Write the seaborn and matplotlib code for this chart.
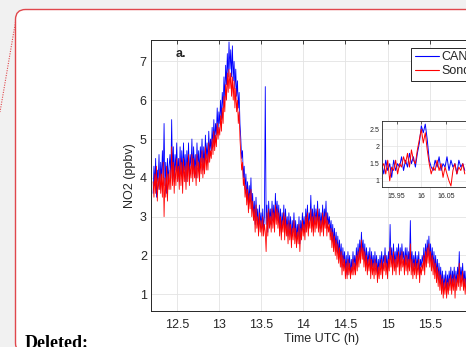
import numpy as np
import pandas as pd
import matplotlib
matplotlib.use("Agg")
import matplotlib.pyplot as plt
import seaborn as sns
from matplotlib.patches import FancyBboxPatch
from matplotlib.lines import Line2D
from matplotlib.transforms import IdentityTransform

# ---------------- data ----------------
series_names = ["CANOE", "Sonde"]
series_colors = ["#0000ff", "#ff0000"]

t_start, t_step = 12.22, 0.01   # main time grid (h UTC), one row = 0.1 h
can_no2 = [
    3.6, 4.3, 3.8, 4.5, 3.5, 4.2, 3.9, 4.6, 3.7, 4.4,
    3.9, 4.7, 4.0, 5.4, 3.8, 4.4, 3.6, 4.5, 3.9, 4.3,
    4.6, 4.0, 5.5, 4.1, 4.8, 3.9, 4.6, 4.2, 4.9, 4.0,
    4.5, 3.9, 4.8, 4.1, 4.7, 4.0, 4.9, 4.2, 4.6, 3.9,
    4.7, 4.2, 4.9, 4.0, 4.6, 4.3, 5.0, 4.1, 4.8, 4.2,
    4.6, 4.0, 4.9, 4.3, 4.7, 4.1, 4.8, 4.4, 5.0, 4.2,
    4.8, 4.3, 5.1, 4.5, 4.9, 4.4, 5.2, 4.6, 5.0, 4.7,
    5.3, 4.8, 5.5, 4.9, 5.4, 5.1, 5.8, 5.2, 5.7, 5.4,
    6.0, 5.5, 6.2, 5.8, 6.6, 6.0, 6.9, 6.4, 7.2, 6.6,
    7.5, 6.8, 7.3, 6.6, 7.4, 6.5, 7.0, 6.3, 6.8, 6.1,
    6.5, 5.8, 6.2, 5.4, 5.0, 4.5, 4.7, 4.0, 4.3, 3.7,
    4.1, 3.5, 3.9, 3.3, 3.8, 3.4, 4.0, 3.2, 3.6, 3.0,
    3.4, 2.8, 3.5, 2.9, 3.2, 2.6, 3.3, 2.8, 3.1, 2.7,
    3.2, 2.7, 3.0, 6.35, 2.8, 3.3, 2.6, 3.4, 2.9, 3.2,
    2.8, 3.4, 2.9, 3.3, 2.8, 3.6, 3.0, 3.4, 2.9, 3.3,
    2.7, 3.2, 2.6, 3.1, 2.8, 3.3, 2.6, 3.2, 2.7, 3.0,
    2.5, 3.1, 2.6, 3.0, 2.4, 2.9, 2.6, 3.1, 2.5, 2.9,
    2.4, 2.8, 2.5, 3.0, 2.3, 2.9, 2.6, 3.1, 2.7, 3.0,
    2.6, 3.2, 2.8, 3.3, 2.7, 3.1, 2.9, 3.55, 2.8, 3.2,
    2.7, 3.3, 2.8, 3.2, 2.9, 3.4, 2.8, 3.2, 2.7, 3.1,
    2.8, 3.3, 2.7, 3.2, 2.9, 3.4, 2.7, 3.1, 2.8, 3.0,
    2.6, 2.9, 2.4, 2.8, 2.3, 2.7, 2.2, 2.6, 2.1, 2.5,
    2.0, 2.4, 1.9, 2.3, 1.7, 2.2, 1.8, 2.1, 1.6, 2.0,
    1.5, 2.1, 1.7, 2.0, 1.5, 1.9, 1.6, 2.1, 1.7, 2.0,
    1.7, 2.2, 1.8, 2.3, 1.9, 2.4, 2.0, 2.6, 2.1, 2.4,
    1.9, 2.3, 1.8, 2.2, 1.7, 2.1, 1.8, 2.2, 1.6, 2.1,
    1.7, 2.0, 1.6, 2.1, 1.7, 2.0, 1.5, 1.9, 1.6, 2.0,
    1.7, 2.1, 1.6, 2.0, 1.8, 2.2, 1.7, 2.0, 1.6, 2.1,
    1.8, 2.8, 1.9, 2.2, 1.7, 2.3, 1.8, 2.1, 1.7, 2.2,
    1.9, 2.3, 1.7, 2.2, 1.8, 2.3, 1.9, 2.1, 1.7, 2.2,
    1.8, 2.2, 1.7, 2.1, 1.8, 2.9, 1.7, 2.1, 1.6, 2.0,
    1.7, 2.1, 1.6, 2.0, 1.7, 2.1, 1.5, 1.9, 1.7, 2.0,
    1.8, 2.2, 1.7, 2.3, 1.9, 2.4, 2.0, 2.5, 1.9, 2.3,
    1.8, 2.2, 1.7, 2.1, 1.6, 2.0, 1.5, 1.9, 1.4, 1.8,
    1.3, 1.7, 1.2, 1.6, 1.1, 1.5, 1.2, 1.6, 1.1, 1.5,
    1.2, 1.6, 1.3, 1.7, 1.2, 1.6, 1.3, 1.7, 1.2, 1.6,
    1.3, 1.7, 1.4, 2.1, 1.3, 1.7, 1.4, 1.8, 1.3, 1.6,
    1.2, 1.6, 1.3, 1.7, 1.4, 1.8, 1.5, 2.0, 2.6, 2.4,
    1.5, 1.3, 1.6, 1.2, 1.5, 1.3, 1.7, 1.2, 1.5, 1.3,
]
sonde_no2 = [
    3.9, 3.5, 4.1, 3.6, 4.3, 3.4, 4.0, 3.7, 4.2, 3.6,
    4.1, 3.5, 4.4, 3.0, 4.0, 3.5, 4.3, 3.4, 4.1, 3.7,
    4.2, 3.7, 4.8, 3.8, 4.4, 3.6, 4.3, 3.8, 4.5, 3.9,
    4.3, 3.7, 4.5, 3.8, 4.4, 3.6, 4.5, 3.9, 4.3, 3.7,
    4.4, 3.9, 4.6, 3.8, 4.3, 4.0, 4.6, 3.9, 4.5, 4.0,
    4.3, 3.8, 4.6, 4.0, 4.4, 3.9, 4.5, 4.1, 4.7, 4.0,
    4.5, 4.1, 4.8, 4.2, 4.6, 4.2, 4.9, 4.4, 4.7, 4.5,
    5.0, 4.6, 5.2, 4.7, 5.1, 4.8, 5.4, 5.0, 5.3, 5.1,
    5.6, 5.2, 5.8, 5.4, 6.1, 5.7, 6.4, 6.0, 6.7, 6.2,
    6.8, 6.3, 6.7, 6.1, 6.6, 6.0, 6.5, 5.8, 6.3, 5.7,
    6.0, 5.4, 5.7, 5.0, 4.6, 4.2, 4.4, 3.8, 4.0, 3.5,
    3.8, 3.3, 3.7, 3.1, 3.6, 3.2, 3.7, 3.0, 3.4, 2.9,
    3.2, 2.6, 3.3, 2.7, 3.0, 2.5, 3.1, 2.6, 2.9, 2.5,
    3.0, 2.5, 2.8, 2.6, 2.1, 3.1, 2.5, 3.2, 2.7, 3.0,
    2.6, 3.2, 2.7, 3.1, 2.6, 3.3, 2.8, 3.2, 2.7, 3.1,
    2.5, 3.0, 2.4, 2.9, 2.6, 3.1, 2.4, 3.0, 2.5, 2.8,
    2.3, 2.9, 2.4, 2.8, 2.2, 2.7, 2.4, 2.9, 2.3, 2.7,
    2.2, 2.6, 2.3, 2.8, 2.1, 2.7, 2.4, 2.9, 2.5, 2.8,
    2.4, 3.0, 2.6, 3.1, 2.5, 2.9, 2.7, 3.2, 2.6, 3.0,
    2.5, 3.1, 2.6, 3.0, 2.7, 3.2, 2.6, 3.0, 2.5, 2.9,
    2.6, 3.1, 2.5, 3.0, 2.7, 3.1, 2.5, 2.9, 2.6, 2.8,
    2.4, 2.7, 2.2, 2.6, 2.1, 2.5, 2.0, 2.4, 1.9, 2.3,
    1.8, 2.2, 1.7, 2.1, 1.5, 2.0, 1.6, 1.9, 1.4, 1.8,
    1.4, 1.9, 1.5, 1.8, 1.4, 1.7, 1.5, 1.9, 1.5, 1.8,
    1.5, 2.0, 1.6, 2.1, 1.7, 2.2, 1.8, 2.4, 1.9, 2.2,
    1.7, 2.1, 1.6, 2.0, 1.5, 1.9, 1.6, 2.0, 1.4, 1.9,
    1.5, 1.8, 1.4, 1.9, 1.5, 1.8, 1.3, 1.7, 1.4, 1.8,
    1.5, 1.9, 1.4, 1.8, 1.6, 2.0, 1.5, 1.8, 1.4, 1.9,
    1.6, 2.2, 1.7, 2.0, 1.5, 2.1, 1.6, 1.9, 1.5, 2.0,
    1.7, 2.1, 1.5, 2.0, 1.6, 2.1, 1.7, 1.9, 1.5, 2.0,
    1.6, 2.0, 1.5, 1.9, 1.6, 2.3, 1.5, 1.9, 1.4, 1.8,
    1.5, 1.9, 1.4, 1.8, 1.5, 1.9, 1.3, 1.7, 1.5, 1.8,
    1.6, 2.0, 1.5, 2.1, 1.7, 2.2, 1.8, 2.3, 1.7, 2.1,
    1.6, 2.0, 1.5, 1.9, 1.4, 1.8, 1.3, 1.7, 1.2, 1.6,
    1.1, 1.5, 1.0, 1.4, 0.9, 1.3, 1.0, 1.4, 0.9, 1.3,
    1.0, 1.4, 1.1, 1.5, 1.0, 1.4, 1.1, 1.5, 0.9, 1.4,
    1.1, 1.5, 1.2, 1.8, 1.1, 1.5, 1.2, 1.6, 1.1, 1.4,
    1.0, 1.4, 1.1, 1.5, 1.2, 1.6, 1.3, 1.8, 2.4, 2.2,
    1.3, 1.1, 1.4, 1.0, 1.3, 1.1, 1.5, 1.0, 1.3, 1.1,
]

inset_start, inset_step = 15.92, 0.004
can_inset = [
    1.5, 1.2, 1.6, 1.3, 1.5, 1.1, 1.6, 1.3, 1.5, 1.4, 1.7, 1.3, 1.6, 1.4, 1.8,
    1.5, 1.7, 1.4, 1.8, 2.1, 2.6, 2.4, 2.65, 2.2, 1.6, 1.4, 1.3, 1.6, 1.4, 1.7,
    1.3, 1.5, 1.4, 1.7, 1.3, 1.6, 1.4, 1.5, 1.2, 1.6, 1.4, 1.5, 1.3,
]
sonde_inset = [
    1.4, 1.5, 1.2, 1.6, 1.0, 1.4, 1.3, 1.6, 1.2, 1.5, 1.4, 1.7, 1.5, 1.8, 1.4,
    1.9, 1.6, 1.5, 1.9, 2.2, 2.5, 2.1, 2.4, 1.9, 1.5, 1.2, 1.4, 1.3, 1.6, 1.3,
    1.5, 1.1, 1.4, 1.2, 1.0, 0.85, 1.3, 1.5, 1.2, 1.4, 1.3, 1.5, 1.2,
]

x_ticks = [12.5, 13, 13.5, 14, 14.5, 15, 15.5, 16]
x_tick_labels = ["12.5", "13", "13.5", "14", "14.5", "15", "15.5", "16"]
y_ticks = [1, 2, 3, 4, 5, 6, 7]
y_tick_labels = ["1", "2", "3", "4", "5", "6", "7"]
inset_x_ticks = [15.95, 16, 16.05]
inset_x_tick_labels = ["15.95", "16", "16.05"]
inset_y_ticks = [1, 1.5, 2, 2.5]
inset_y_tick_labels = ["1", "1.5", "2", "2.5"]

# ---------------- tables ----------------
def make_df(start, step, a, b):
    ta = start + step * np.arange(len(a))
    tb = start + step * np.arange(len(b))
    return pd.DataFrame({
        "t": np.concatenate([ta, tb]),
        "no2": np.concatenate([a, b]),
        "inst": [series_names[0]] * len(a) + [series_names[1]] * len(b),
    })

df_main = make_df(t_start, t_step, can_no2, sonde_no2)
df_inset = make_df(inset_start, inset_step, can_inset, sonde_inset)
palette = dict(zip(series_names, series_colors))

# ---------------- figure ----------------
W, H = 466, 347
sns.set_theme(style="white")
plt.rcParams["font.family"] = ["Liberation Sans", "DejaVu Sans"]
dark = "#262626"

fig = plt.figure(figsize=(W / 100, H / 100), dpi=100)
fig.patch.set_facecolor("#f1f1f1")

# document comment card
card = FancyBboxPatch((15.5, -6), 520, 343.5,
                      boxstyle="round,pad=0,rounding_size=10",
                      transform=IdentityTransform(), facecolor="white",
                      edgecolor="#e0474c", linewidth=1.0, zorder=-5)
fig.add_artist(card)
fig.add_artist(Line2D([15.5, 0], [H - 22, H - 112], transform=IdentityTransform(),
                      color="#e0474c", linestyle=(0, (1, 1.2)), linewidth=0.8, zorder=-4))
fig.text(25 / W, (H - 348) / H, "Deleted:", family=["Liberation Serif", "DejaVu Serif"],
         fontweight="bold", fontsize=13, color="black", ha="left", va="baseline")

# main axes
ax = fig.add_axes([151 / W, (H - 311) / H, 342 / W, 271 / H])
sns.lineplot(data=df_main, x="t", y="no2", hue="inst", hue_order=series_names,
             palette=palette, estimator=None, sort=False, linewidth=0.6, ax=ax)
ax.set_xlim(12.195, 16.25)
ax.set_ylim(0.57, 7.55)
ax.set_xticks(x_ticks, x_tick_labels)
ax.set_yticks(y_ticks, y_tick_labels)
ax.set_xlabel("Time UTC (h)", fontsize=9, color=dark, labelpad=1)
ax.set_ylabel("NO2 (ppbv)", fontsize=9, color=dark, labelpad=3)
ax.grid(True, color="#e3e3e3", linewidth=0.6)
ax.set_axisbelow(True)
ax.tick_params(direction="in", top=True, right=True, length=3, width=0.6,
               colors=dark, labelsize=9)
ax.tick_params(axis="x", pad=6)
ax.tick_params(axis="y", pad=3)
for s in ax.spines.values():
    s.set_color(dark)
    s.set_linewidth(0.7)
ax.text(0.072, 0.948, "a.", transform=ax.transAxes, fontsize=9, fontweight="bold",
        color=dark, ha="left", va="center")
handles, labels = ax.get_legend_handles_labels()
for h in handles:
    h.set_linewidth(0.8)
leg = ax.legend(handles, labels, loc="upper left",
                bbox_to_anchor=(411 / W, (H - 47.7) / H), bbox_transform=fig.transFigure,
                fontsize=9, frameon=True, fancybox=False, edgecolor=dark, framealpha=1,
                borderpad=0.3, labelspacing=0.15, handlelength=1.9, handletextpad=0.2,
                borderaxespad=0)
leg.get_frame().set_linewidth(0.7)

# inset axes
axi = fig.add_axes([382.3 / W, (H - 187) / H, 88.4 / W, 66.3 / H], zorder=5)
sns.lineplot(data=df_inset, x="t", y="no2", hue="inst", hue_order=series_names,
             palette=palette, estimator=None, sort=False, linewidth=0.7, ax=axi,
             legend=False)
axi.set_facecolor("white")
axi.set_xlim(15.921, 16.1)
axi.set_ylim(0.82, 2.75)
axi.set_xticks(inset_x_ticks, inset_x_tick_labels)
axi.set_yticks(inset_y_ticks, inset_y_tick_labels)
axi.set_xlabel("")
axi.set_ylabel("")
axi.grid(True, color="#e3e3e3", linewidth=0.5)
axi.set_axisbelow(True)
axi.tick_params(direction="in", top=True, right=True, length=2, width=0.5,
                colors=dark, labelsize=5)
axi.tick_params(axis="x", pad=4)
axi.tick_params(axis="y", pad=2)
for s in axi.spines.values():
    s.set_color(dark)
    s.set_linewidth(0.6)

fig.savefig("out.png", dpi=100, facecolor=fig.get_facecolor())
